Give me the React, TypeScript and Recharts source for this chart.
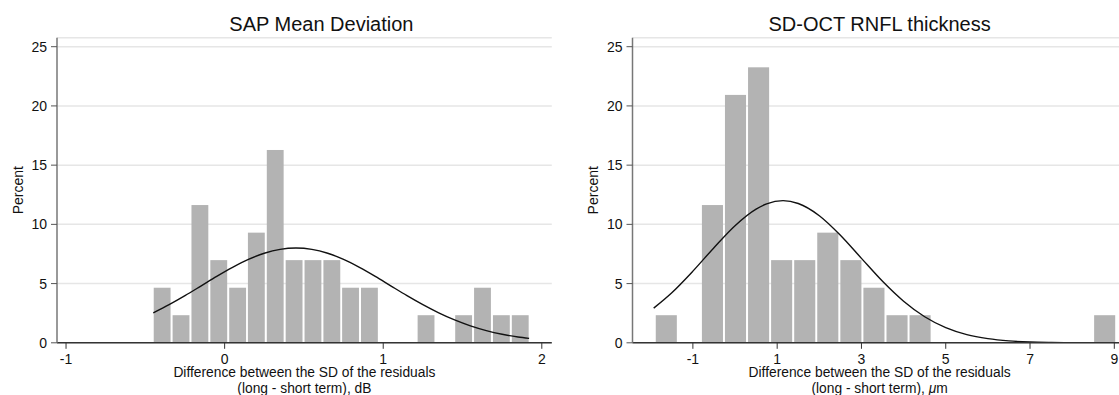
import React from "react";
import { ComposedChart, Bar, Line, XAxis, YAxis, CartesianGrid } from "recharts";

// histogram bin centres and heights (percent of 43 eyes)
const sapBins = [-0.394, -0.275, -0.156, -0.037, 0.082, 0.2, 0.319, 0.438, 0.557, 0.676, 0.794, 0.913, 1.032, 1.151, 1.27, 1.388, 1.507, 1.626, 1.745, 1.864];
const sapPercent = [4.65, 2.33, 11.63, 6.98, 4.65, 9.3, 16.28, 6.98, 6.98, 6.98, 4.65, 4.65, 0, 0, 2.33, 0, 2.33, 4.65, 2.33, 2.33];
const sapCurveX = [-0.45, -0.35, -0.25, -0.15, -0.05, 0.05, 0.15, 0.25, 0.35, 0.45, 0.55, 0.65, 0.75, 0.85, 0.95, 1.05, 1.15, 1.25, 1.35, 1.45, 1.55, 1.65, 1.75, 1.85, 1.92];
const sapCurveY = [2.53, 3.22, 3.98, 4.79, 5.61, 6.37, 7.04, 7.56, 7.89, 8.0, 7.89, 7.56, 7.04, 6.37, 5.61, 4.79, 3.98, 3.22, 2.53, 1.93, 1.43, 1.03, 0.72, 0.49, 0.37];
const sapTicks = [-1, 0, 1, 2];

const octBins = [-1.631, -1.084, -0.536, 0.011, 0.559, 1.106, 1.654, 2.201, 2.749, 3.296, 3.844, 4.391, 4.939, 5.486, 6.034, 6.581, 7.129, 7.676, 8.224, 8.771];
const octPercent = [2.33, 0, 11.63, 20.93, 23.26, 6.98, 6.98, 9.3, 6.98, 4.65, 2.33, 2.33, 0, 0, 0, 0, 0, 0, 0, 2.33];
const octCurveX = [-1.93, -1.5, -1.0, -0.5, 0, 0.5, 0.75, 1.14, 1.5, 2.0, 2.5, 3.0, 3.5, 4.0, 4.5, 5.0, 5.5, 6.0, 6.5, 7.0, 7.5, 8.0, 8.5, 9.05];
const octCurveY = [2.93, 4.23, 6.05, 8.03, 9.89, 11.29, 11.73, 12.0, 11.76, 10.73, 9.08, 7.13, 5.19, 3.51, 2.2, 1.28, 0.69, 0.35, 0.16, 0.07, 0.03, 0.01, 0.0, 0.0];
const octTicks = [-1, 1, 3, 5, 7, 9];

const yTicks = [0, 5, 10, 15, 20, 25];

const FONT = "'Liberation Sans', Arial, Helvetica, sans-serif";
const H = 395;
const TOP = 37.7;
const BOTTOM = 342.8;
const Y_AXIS_W = 40;
const X_AXIS_H = 30;

const XLabel = (props: any) => {
  const { viewBox, unit } = props;
  const cx = viewBox.x + viewBox.width / 2;
  const y = viewBox.y;
  return (
    <g fontSize={13.8} fill="#111" fontFamily={FONT}>
      <text x={cx} y={y + 34.5} textAnchor="middle">
        Difference between the SD of the residuals
      </text>
      <text x={cx} y={y + 49.8} textAnchor="middle">
        (long - short term), {unit === "um" ? <tspan fontStyle="italic">μ</tspan> : null}
        {unit === "um" ? "m" : "dB"}
      </text>
    </g>
  );
};

const YLabel = (props: any) => {
  const { viewBox } = props;
  const x = viewBox.x + viewBox.width - 34.3;
  const y = viewBox.y + viewBox.height / 2;
  return (
    <text x={x} y={y} transform={`rotate(-90 ${x} ${y})`} textAnchor="middle" fontSize={14} fill="#111" fontFamily={FONT}>
      Percent
    </text>
  );
};

type PanelProps = {
  title: string;
  titleX: number;
  left: number;
  width: number;
  plotLeft: number;
  plotRight: number;
  domain: [number, number];
  binWidth: number;
  bins: number[];
  percent: number[];
  curveX: number[];
  curveY: number[];
  ticks: number[];
  unit: string;
};

const Panel = (p: PanelProps) => {
  const bars = p.bins.map((x, i) => ({ x, pct: p.percent[i] }));
  const curve = p.curveX.map((x, i) => ({ x, y: p.curveY[i] }));
  const plotW = p.plotRight - p.plotLeft;
  const pitch = (p.binWidth * plotW) / (p.domain[1] - p.domain[0]);
  const tickStyle = { fontSize: 14, fill: "#111", fontFamily: FONT };

  // histogram bar: centred on the bin centre, one bin wide, 2px white gap
  const HistBar = (s: any) => {
    if (!s.height) return null;
    const cx = s.x + s.width / 2;
    return <rect x={cx - pitch / 2 + 1} y={s.y} width={pitch - 2} height={s.height} fill="#b3b3b3" />;
  };

  return (
    <>
      <div
        style={{
          position: "absolute",
          left: p.titleX - 200,
          top: 13.6,
          width: 400,
          textAlign: "center",
          fontSize: 20,
          lineHeight: "20px",
          fontFamily: FONT,
          color: "#111",
        }}
      >
        {p.title}
      </div>
      <div style={{ position: "absolute", left: p.left, top: 0 }}>
        <ComposedChart
          width={p.width}
          height={H}
          data={bars}
          margin={{
            top: TOP,
            right: p.left + p.width - p.plotRight,
            bottom: H - BOTTOM - X_AXIS_H,
            left: p.plotLeft - p.left - Y_AXIS_W,
          }}
        >
          <CartesianGrid vertical={false} stroke="#e6e6e6" strokeWidth={1.5} />
          <XAxis
            dataKey="x"
            type="number"
            domain={p.domain}
            ticks={p.ticks}
            allowDataOverflow
            height={X_AXIS_H}
            tickSize={6}
            tickMargin={5}
            tick={tickStyle}
            axisLine={{ stroke: "#333", strokeWidth: 1.5 }}
            tickLine={{ stroke: "#333" }}
            label={<XLabel unit={p.unit} />}
          />
          <YAxis
            type="number"
            domain={[0, 25.76]}
            ticks={yTicks}
            allowDataOverflow
            width={Y_AXIS_W}
            tickSize={6}
            tickMargin={4}
            tick={tickStyle}
            axisLine={{ stroke: "#777", strokeWidth: 1.5 }}
            tickLine={{ stroke: "#555" }}
            label={<YLabel />}
          />
          <Bar dataKey="pct" shape={HistBar} isAnimationActive={false} />
          <Line
            data={curve}
            dataKey="y"
            type="monotone"
            stroke="#111"
            strokeWidth={1.4}
            dot={false}
            activeDot={false}
            isAnimationActive={false}
          />
        </ComposedChart>
      </div>
    </>
  );
};

export default function App() {
  return (
    <div
      style={{
        position: "absolute",
        left: 0,
        top: 0,
        width: 1119,
        height: H,
        overflow: "hidden",
        background: "#fff",
      }}
    >
      <Panel
        title="SAP Mean Deviation"
        titleX={321.4}
        left={0}
        width={560}
        plotLeft={57}
        plotRight={551.8}
        domain={[-1.057, 2.063]}
        binWidth={0.1188}
        bins={sapBins}
        percent={sapPercent}
        curveX={sapCurveX}
        curveY={sapCurveY}
        ticks={sapTicks}
        unit="dB"
      />
      <Panel
        title="SD-OCT RNFL thickness"
        titleX={879.6}
        left={560}
        width={575}
        plotLeft={632.5}
        plotRight={1126.7}
        domain={[-2.433, 9.294]}
        binWidth={0.5475}
        bins={octBins}
        percent={octPercent}
        curveX={octCurveX}
        curveY={octCurveY}
        ticks={octTicks}
        unit="um"
      />
    </div>
  );
}
